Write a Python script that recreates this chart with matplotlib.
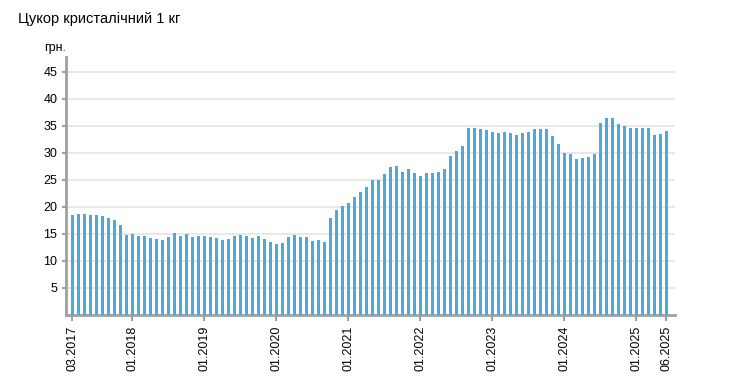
import matplotlib
matplotlib.use("Agg")
import matplotlib.pyplot as plt
import numpy as np

plt.rcParams['font.family'] = ['Liberation Sans', 'DejaVu Sans']

# monthly prices, 03.2017 .. 06.2025
prices = [
    18.5, 18.7, 18.7, 18.5, 18.5, 18.3, 17.9, 17.5, 16.6, 14.8,   # 2017
    14.9, 14.6, 14.6, 14.2, 14.0, 13.8, 14.4, 15.1, 14.6, 14.9, 14.4, 14.6,  # 2018
    14.6, 14.4, 14.2, 13.8, 14.0, 14.6, 14.8, 14.6, 14.2, 14.6, 14.0, 13.5,  # 2019
    13.1, 13.3, 14.4, 14.8, 14.4, 14.4, 13.7, 13.8, 13.5, 17.9, 19.4, 20.1,  # 2020
    20.7, 21.8, 22.7, 23.7, 25.0, 25.0, 26.1, 27.4, 27.6, 26.5, 27.0, 26.3,  # 2021
    25.7, 26.3, 26.3, 26.5, 27.0, 29.4, 30.4, 31.3, 34.6, 34.6, 34.4, 34.2,  # 2022
    33.8, 33.7, 33.8, 33.7, 33.3, 33.7, 33.8, 34.4, 34.4, 34.4, 33.1, 31.6,  # 2023
    30.0, 29.8, 28.9, 29.1, 29.2, 29.8, 35.6, 36.5, 36.5, 35.4, 35.0, 34.6,  # 2024
    34.6, 34.6, 34.6, 33.3, 33.5, 34.1,  # 2025
]
tick_pos = [0, 10, 22, 34, 46, 58, 70, 82, 94, 99]
tick_labels = ["03.2017", "01.2018", "01.2019", "01.2020", "01.2021",
               "01.2022", "01.2023", "01.2024", "01.2025", "06.2025"]
yticks = [5, 10, 15, 20, 25, 30, 35, 40, 45]

fig = plt.figure(figsize=(7.52, 3.88), dpi=100)
ax = fig.add_axes([0.0874, 0.1894, 0.810, 0.663])

x = np.arange(len(prices))
ax.bar(x, prices, width=0.5, color='#4aaad9', zorder=3)

ax.set_xlim(-1.1, 100.4)
ax.set_ylim(0, 47.7)
ax.set_yticks(yticks)
ax.set_yticklabels([str(v) for v in yticks])
ax.set_xticks(tick_pos)
ax.set_xticklabels(tick_labels, rotation=90)
ax.grid(axis='y', color='#e8e8e8', linewidth=1.4, zorder=0)

for s in ['top', 'right']:
    ax.spines[s].set_visible(False)
for s in ['left', 'bottom']:
    ax.spines[s].set_color('#a0a0a0')
    ax.spines[s].set_linewidth(2)
ax.tick_params(axis='both', colors='#a0a0a0', labelcolor='black', labelsize=9, width=1.5)
ax.tick_params(axis='x', pad=4, length=4)
ax.tick_params(axis='y', pad=3, length=3)

fig.text(18 / 752, 1 - 19 / 388, "Цукор кристалічний 1 кг", fontsize=10.5, va='center', ha='left')
fig.text(55 / 752, 1 - 48 / 388, "грн.", fontsize=9, va='center', ha='center')

fig.savefig("out.png", dpi=100)
